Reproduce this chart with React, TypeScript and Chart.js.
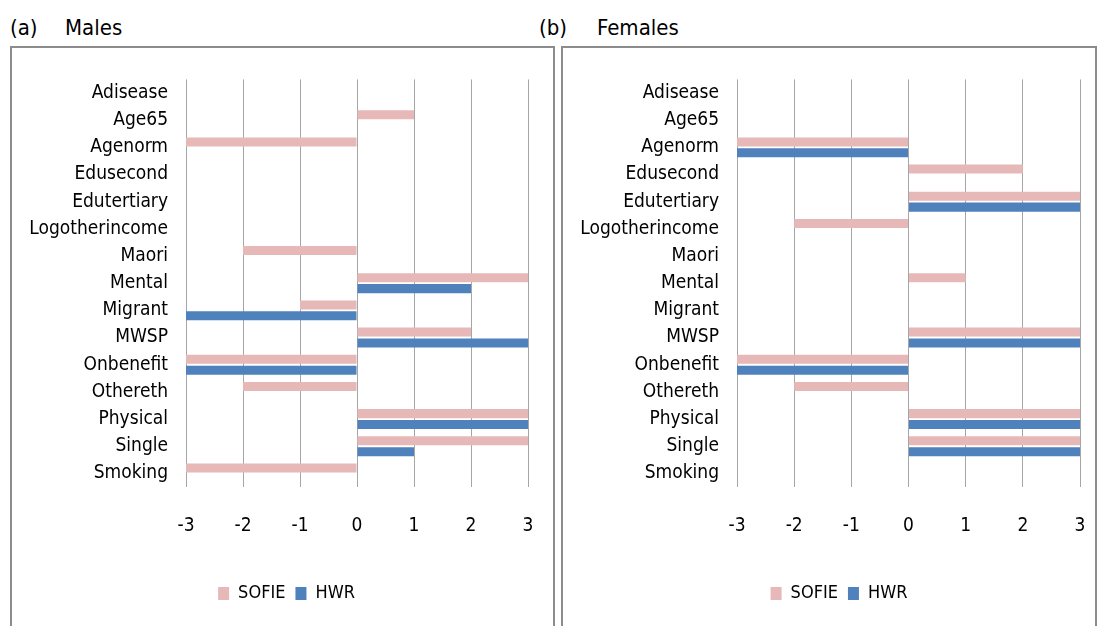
import React, { useEffect, useRef } from "react";
import { Chart, registerables } from "chart.js";

Chart.register(...registerables);

const categories = [
  "Adisease", "Age65", "Agenorm", "Edusecond", "Edutertiary", "Logotherincome", "Maori",
  "Mental", "Migrant", "MWSP", "Onbenefit", "Othereth", "Physical", "Single", "Smoking",
];
const xTickMin = -3;
const xTickMax = 3;
const seriesNames = ["SOFIE", "HWR"];
const maleSOFIE = [null, 1, -3, null, null, null, -2, 3, -1, 2, -3, -2, 3, 3, -3];
const maleHWR = [null, null, null, null, null, null, null, 2, -3, 3, -3, null, 3, 1, null];
const femaleSOFIE = [null, null, -3, 2, 3, -2, null, 1, null, 3, -3, -2, 3, 3, null];
const femaleHWR = [null, null, -3, null, 3, null, null, null, null, 3, -3, null, 3, 3, null];

const FONT = "'Liberation Sans Narrow', 'Arial Narrow', 'DejaVu Sans Condensed', 'Liberation Sans', sans-serif";
const PINK = "#E6B9B8";
const BLUE = "#4F81BD";

type PanelProps = {
  left: number;
  width: number;
  padRight: number;
  axisWidth: number;
  legendCenter: number;
  sofie: (number | null)[];
  hwr: (number | null)[];
};

function BarPanel({ left, width, padRight, axisWidth, legendCenter, sofie, hwr }: PanelProps) {
  const ref = useRef<HTMLCanvasElement | null>(null);
  const height = 576;
  useEffect(() => {
    if (!ref.current) return;
    const legendShift = {
      id: "legendShift",
      afterLayout(chart: any) {
        const lg = chart.legend;
        if (!lg) return;
        const dx = legendCenter - (lg.left + lg.right) / 2;
        lg.left += dx;
        lg.right += dx;
      },
    };
    const chart = new Chart(ref.current, {
      type: "bar",
      data: {
        labels: categories,
        datasets: [
          { label: seriesNames[0], data: sofie, backgroundColor: PINK, borderWidth: 0, barPercentage: 0.83, categoryPercentage: 0.8 },
          { label: seriesNames[1], data: hwr, backgroundColor: BLUE, borderWidth: 0, barPercentage: 0.83, categoryPercentage: 0.8 },
        ],
      },
      options: {
        indexAxis: "y",
        animation: false,
        responsive: false,
        maintainAspectRatio: false,
        layout: { padding: { top: 28, left: 0, right: padRight, bottom: 13.5 } },
        plugins: {
          tooltip: { enabled: false },
          legend: {
            position: "bottom",
            labels: {
              boxWidth: 11,
              boxHeight: 13,
              padding: 10,
              color: "#000",
              font: { family: FONT, size: 18 },
            },
          },
        },
        scales: {
          x: {
            type: "linear",
            min: xTickMin,
            max: xTickMax,
            ticks: { stepSize: 1, color: "#000", padding: 0, font: { family: FONT, size: 19 } },
            grid: { color: "#a6a6a6", lineWidth: 1, drawTicks: true, tickLength: 28, tickColor: "rgba(0,0,0,0)" },
            border: { display: false },
            afterFit: (s: any) => { s.height = 87.5; },
          },
          y: {
            type: "category",
            ticks: { color: "#000", padding: 18, autoSkip: false, font: { family: FONT, size: 19 } },
            grid: { display: false, drawTicks: false },
            border: { display: false },
            afterFit: (s: any) => { s.width = axisWidth; },
          },
        },
      },
      plugins: [legendShift],
    } as any);
    return () => chart.destroy();
  }, []);
  return (
    <canvas
      ref={ref}
      width={width}
      height={height}
      style={{ position: "absolute", left, top: 50, width, height, display: "block" }}
    />
  );
}

export default function App() {
  const titleStyle: React.CSSProperties = {
    position: "absolute",
    top: 14,
    fontFamily: FONT,
    fontSize: 22,
    lineHeight: "28px",
    color: "#000",
    whiteSpace: "nowrap",
  };
  const boxStyle: React.CSSProperties = {
    position: "absolute",
    top: 46,
    height: 620,
    border: "2px solid #8c8c8c",
    boxSizing: "border-box",
  };
  return (
    <div style={{ position: "absolute", left: 0, top: 0, width: 1099, height: 626, overflow: "hidden", background: "#fff" }}>
      <div style={{ ...titleStyle, left: 10 }}>(a)</div>
      <div style={{ ...titleStyle, left: 65 }}>Males</div>
      <div style={{ ...titleStyle, left: 539 }}>(b)</div>
      <div style={{ ...titleStyle, left: 597 }}>Females</div>
      <div style={{ ...boxStyle, left: 10, width: 545 }} />
      <div style={{ ...boxStyle, left: 561, width: 536 }} />
      <BarPanel left={13} width={540} padRight={25} axisWidth={173} legendCenter={273.5} sofie={maleSOFIE} hwr={maleHWR} />
      <BarPanel left={564} width={531} padRight={15} axisWidth={173} legendCenter={275} sofie={femaleSOFIE} hwr={femaleHWR} />
    </div>
  );
}
